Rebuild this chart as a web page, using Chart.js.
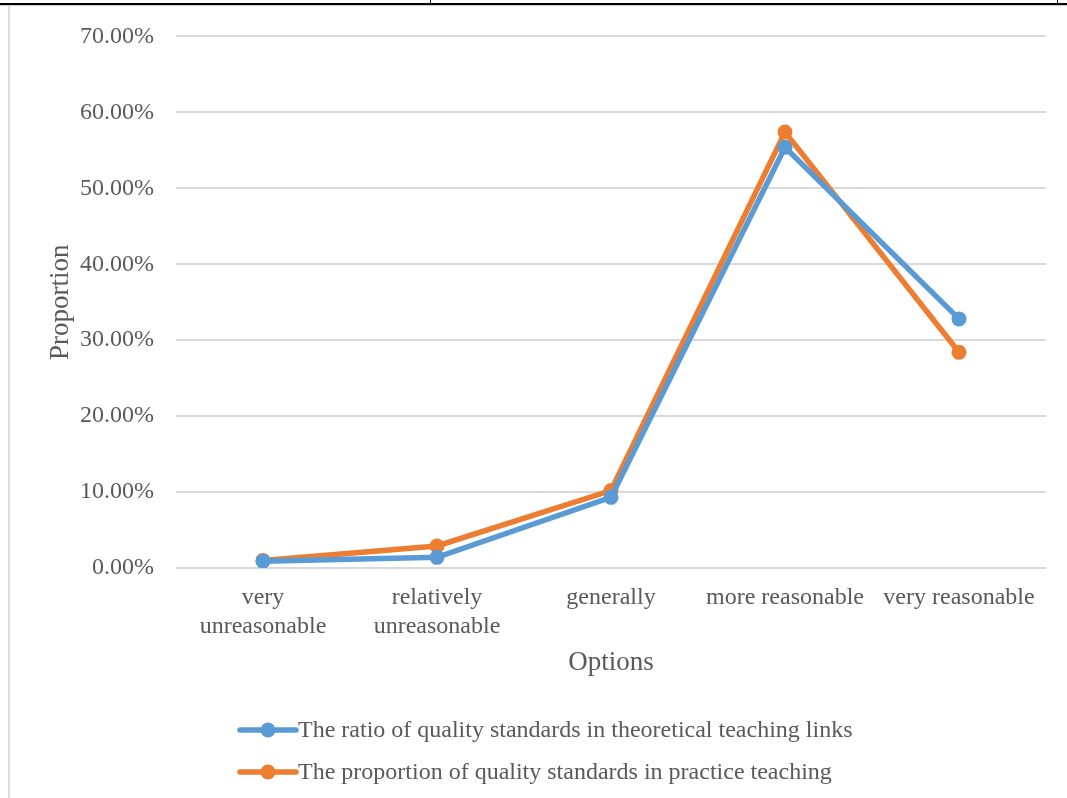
<!DOCTYPE html>
<html>
<head>
<meta charset="utf-8">
<script src="https://cdn.jsdelivr.net/npm/chart.js@4/dist/chart.umd.min.js"></script>
<style>
  html, body { margin: 0; padding: 0; background: #fff; }
  #wrap { position: relative; width: 1067px; height: 798px; overflow: hidden; }
  #chart { position: absolute; left: 0; top: 0; }
  .rule { position: absolute; }
</style>
</head>
<body>
<div id="wrap">
  <canvas id="chart" width="1067" height="798"></canvas>
  <!-- page frame around the chart -->
  <div class="rule" style="left:0;top:3px;width:1067px;height:2px;background:#000;"></div>
  <div class="rule" style="left:0;top:5px;width:1067px;height:1px;background:#cfcfcf;"></div>
  <div class="rule" style="left:430px;top:0;width:1px;height:4px;background:#000;"></div>
  <div class="rule" style="left:1057px;top:0;width:1px;height:4px;background:#000;"></div>
  <div class="rule" style="left:8px;top:6px;width:2px;height:792px;background:#dcdcdc;"></div>
</div>
<script>
// Survey answer options (x axis)
const categories = [
  ['very', 'unreasonable'],
  ['relatively', 'unreasonable'],
  'generally',
  'more reasonable',
  'very reasonable'
];

// Share of respondents per option, in percent
const theoryValues = [0.9, 1.4, 9.3, 55.4, 32.8];
const practiceValues = [1.0, 2.9, 10.2, 57.4, 28.4];

const seriesLabels = [
  'The ratio of quality standards in theoretical teaching links',
  'The proportion of quality standards in practice teaching'
];

// Y axis range and tick step, in percent
const yMin = 0;
const yMax = 70;
const yStep = 10;

const BLUE = '#5B9BD5';
const ORANGE = '#ED7D31';
const TEXT = '#595959';
const GRID = '#D9D9D9';
const FONT = '"Liberation Serif", "Times New Roman", serif';

// Legend stacked in two rows beneath the axis title
const stackedLegend = {
  id: 'stackedLegend',
  afterDraw(chart) {
    const ctx = chart.ctx;
    const x0 = 240, lineLen = 56, rowY = [730, 772];
    ctx.save();
    chart.data.datasets.forEach((ds, i) => {
      const y = rowY[i];
      ctx.strokeStyle = ds.borderColor;
      ctx.lineWidth = 5.5;
      ctx.lineCap = 'round';
      ctx.beginPath();
      ctx.moveTo(x0, y);
      ctx.lineTo(x0 + lineLen, y);
      ctx.stroke();
      ctx.fillStyle = ds.borderColor;
      ctx.beginPath();
      ctx.arc(x0 + lineLen / 2, y, 7.5, 0, Math.PI * 2);
      ctx.fill();
      ctx.fillStyle = TEXT;
      ctx.font = '24px ' + FONT;
      ctx.textBaseline = 'middle';
      ctx.textAlign = 'left';
      ctx.fillText(ds.label, x0 + lineLen + 2, y + 1);
    });
    ctx.restore();
  }
};

new Chart(document.getElementById('chart'), {
  type: 'line',
  data: {
    labels: categories,
    datasets: [
      {
        label: seriesLabels[0],
        data: theoryValues,
        borderColor: BLUE,
        backgroundColor: BLUE,
        borderWidth: 5.5,
        pointRadius: 7.5,
        pointHoverRadius: 7.5,
        pointBorderWidth: 0,
        tension: 0
      },
      {
        label: seriesLabels[1],
        data: practiceValues,
        borderColor: ORANGE,
        backgroundColor: ORANGE,
        borderWidth: 5.5,
        pointRadius: 7.5,
        pointHoverRadius: 7.5,
        pointBorderWidth: 0,
        tension: 0
      }
    ]
  },
  options: {
    responsive: false,
    animation: false,
    devicePixelRatio: 1,
    layout: { padding: { left: 40, right: 21, top: 35, bottom: 119 } },
    plugins: {
      legend: { display: false },
      tooltip: { enabled: false }
    },
    scales: {
      x: {
        offset: true,
        grid: { display: false, drawTicks: false },
        border: { display: false },
        ticks: {
          color: TEXT,
          font: { family: FONT, size: 24, lineHeight: 1.18 },
          padding: 16,
          maxRotation: 0,
          autoSkip: false
        },
        title: {
          display: true,
          text: 'Options',
          color: TEXT,
          font: { family: FONT, size: 27, lineHeight: 1.2 },
          padding: 0
        },
        afterFit(scale) { scale.height = 111; }
      },
      y: {
        min: yMin,
        max: yMax,
        grid: { color: GRID, lineWidth: 2, drawTicks: false },
        border: { display: false },
        ticks: {
          stepSize: yStep,
          color: TEXT,
          font: { family: FONT, size: 24 },
          padding: 22,
          callback: v => v.toFixed(2) + '%'
        },
        title: {
          display: true,
          text: 'Proportion',
          color: TEXT,
          font: { family: FONT, size: 27, lineHeight: 1.2 },
          padding: { top: 5, bottom: 0 }
        },
        afterFit(scale) { scale.width = 136; }
      }
    }
  },
  plugins: [stackedLegend]
});
</script>
</body>
</html>
